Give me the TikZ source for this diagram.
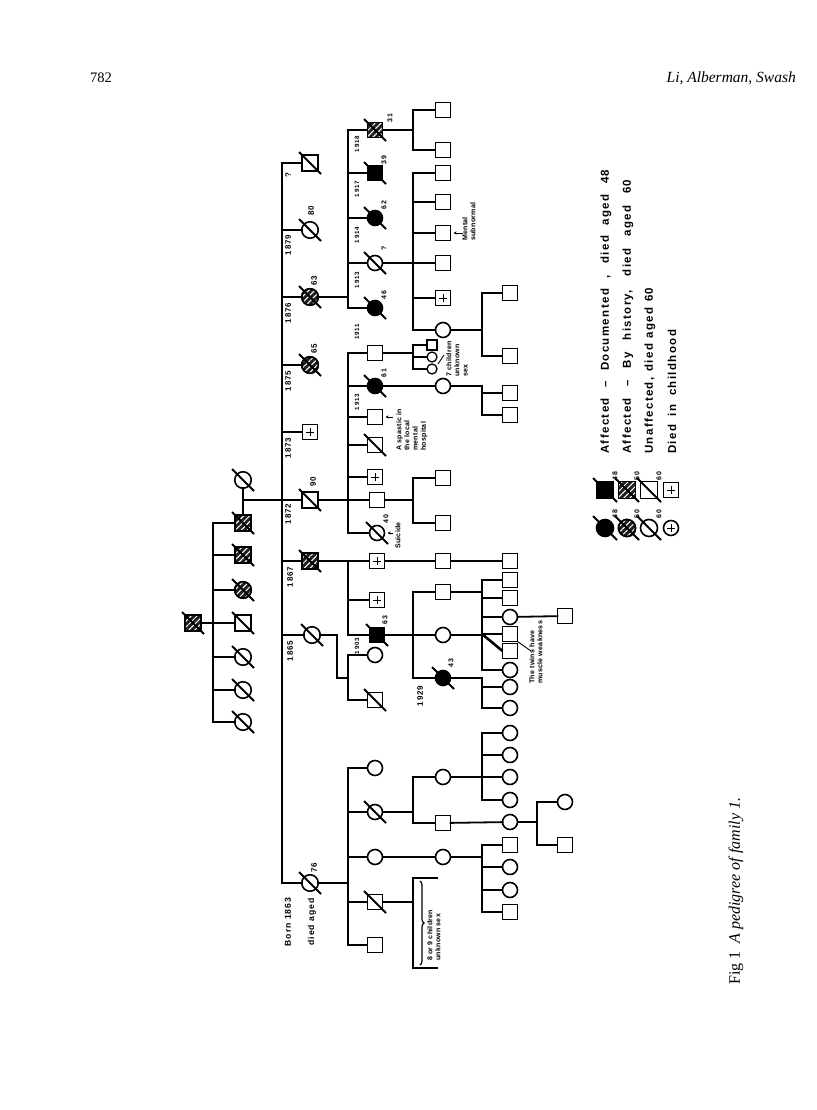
\documentclass[tikz,border=0pt]{standalone}
\usepackage{fontspec}
\setmainfont{Liberation Serif}
\newfontfamily\labf{Liberation Sans}[LetterSpace=12]
\newfontfamily\annf{Liberation Sans}[LetterSpace=4]
\newfontfamily\legf{Liberation Sans}[LetterSpace=12]
\usetikzlibrary{patterns.meta,decorations.pathreplacing,arrows.meta,calc}
\newcommand\dd[2][11]{\draw[sl] ([xshift=-#1pt,yshift=#1pt]#2.center) -- ([xshift=#1pt,yshift=-#1pt]#2.center);}
\begin{document}
\begin{tikzpicture}[x=1pt,y=-1pt,
  ln/.style={line width=1.8pt, line cap=rect},
  sym/.style={draw, line width=1.6pt, inner sep=0pt, outer sep=0pt, fill=white},
  sq/.style={sym, rectangle, minimum size=15pt},
  ci/.style={sym, circle, minimum size=15pt},
  big/.style={minimum size=16.5pt},
  sm/.style={minimum size=10pt, line width=1.3pt},
  aff/.style={fill=black},
  hat/.style={fill=black!88, postaction={pattern={Lines[angle=45,distance=4.2pt,line width=1pt]}, pattern color=white}, postaction={draw}},
  plus/.style={path picture={\draw[line width=0.9pt] ([xshift=-4pt]path picture bounding box.center) -- ([xshift=4pt]path picture bounding box.center) ([yshift=-4pt]path picture bounding box.center) -- ([yshift=4pt]path picture bounding box.center);}},
  sl/.style={line width=1.8pt},
  lab/.style={rotate=90, inner sep=0pt, font=\labf\bfseries\fontsize{8}{8}\selectfont},
  labb/.style={rotate=90, inner sep=0pt, font=\labf\bfseries\fontsize{8.6}{8.6}\selectfont},
  labs/.style={rotate=90, inner sep=0pt, font=\labf\bfseries\fontsize{6.2}{6.2}\selectfont},
  laba/.style={rotate=90, inner sep=0pt, font=\labf\bfseries\fontsize{7}{7}\selectfont},
  ann/.style={rotate=90, inner sep=0pt, align=left, anchor=north west, font=\annf\bfseries\fontsize{7}{8.2}\selectfont},
  leg/.style={rotate=90, inner sep=0pt, anchor=west, font=\legf\bfseries\fontsize{11.5}{11.5}\selectfont},
  tip/.style={-{Stealth[length=3pt,width=3pt]}, line width=0.9pt},
]
\useasboundingbox (0,0) rectangle (816,1110);
% header and caption
\node[font=\fontsize{14.5}{14.5}\selectfont, inner sep=0pt] (pg) at (101,78) {782};
\node[font=\fontsize{15.5}{15.5}\selectfont\itshape, inner sep=0pt, anchor=east] (au) at (796,78) {Li, Alberman, Swash};
\node[rotate=90, inner sep=0pt, anchor=west, font=\fontsize{16}{16}\selectfont] (cap) at (736,985) {Fig 1\enspace\textit{A pedigree of family 1.}};

% ---------- Gen I / II
\node[sq,big,hat] (g1) at (193,623) {};
\node[ci,big] (g2a) at (243,480) {};
\node[sq,big,hat] (g2b) at (243,523) {};
\node[sq,big,hat] (g2c) at (243,555) {};
\node[ci,big,hat] (g2d) at (243,590) {};
\node[sq,big] (g2e) at (243,623) {};
\node[ci,big] (g2f) at (243,657) {};
\node[ci,big] (g2g) at (243,690) {};
\node[ci,big] (g2h) at (243,722) {};
% ---------- Gen III
\node[sq,big] (h1) at (310,163) {};
\node[ci,big] (h2) at (310,230) {};
\node[ci,big,hat] (h3) at (310,297) {};
\node[ci,big,hat] (h4) at (310,365) {};
\node[sq,plus] (h5) at (310,432) {};
\node[sq,big] (h6) at (310,500) {};
\node[sq,big,hat] (h7) at (310,561) {};
\node[ci,big] (h8) at (312,635) {};
\node[ci,big] (h9) at (310,883) {};
% ---------- Gen IV
\node[sq,hat] (i1) at (375,130) {};
\node[sq,aff] (i2) at (375,173) {};
\node[ci,aff] (i3) at (375,218) {};
\node[ci] (i4) at (375,263) {};
\node[ci,aff] (i5) at (375,308) {};
\node[sq] (i6) at (375,353) {};
\node[ci,aff] (i7) at (375,386) {};
\node[sq] (i8) at (375,417) {};
\node[sq] (i9) at (375,445) {};
\node[sq,plus] (i10) at (375,477) {};
\node[sq] (i11) at (377,500) {};
\node[ci] (i12) at (377,533) {};
\node[sq,plus] (i13) at (377,561) {};
\node[sq,plus] (i14) at (377,600) {};
\node[sq,aff] (i15) at (377,635) {};
\node[ci] (i16) at (375,655) {};
\node[sq] (i17) at (375,700) {};
\node[ci] (i18) at (375,768) {};
\node[ci] (i19) at (375,812) {};
\node[ci] (i20) at (375,857) {};
\node[sq] (i21) at (375,902) {};
\node[sq] (i22) at (375,945) {};
% ---------- Gen V
\node[sq] (k1) at (443,110) {};
\node[sq] (k2) at (443,150) {};
\node[sq] (j1) at (443,173) {};
\node[sq] (j2) at (443,202) {};
\node[sq] (j3) at (443,233) {};
\node[sq] (j4) at (443,263) {};
\node[sq,plus] (j5) at (443,298) {};
\node[ci] (j6) at (443,330) {};
\node[sq,sm] (m1) at (432,345) {};
\node[ci,sm] (m2) at (432,357) {};
\node[ci,sm] (m3) at (432,369) {};
\node[ci] (j12) at (443,386) {};
\node[sq] (j13) at (443,478) {};
\node[sq] (j14) at (443,523) {};
\node[sq] (j0) at (443,561) {};
\node[sq] (j7) at (443,592) {};
\node[ci] (j8) at (443,635) {};
\node[ci,aff] (j9) at (443,678) {};
\node[ci] (j10) at (443,777) {};
\node[sq] (j11) at (443,823) {};
\node[ci] (j15) at (443,857) {};
% ---------- Gen VI / VII
\node[sq] (n1) at (510,293) {};
\node[sq] (n2) at (510,356) {};
\node[sq] (n3) at (510,393) {};
\node[sq] (n4) at (510,415) {};
\node[sq] (n0) at (510,561) {};
\node[sq] (n5) at (510,580) {};
\node[sq] (n6) at (510,598) {};
\node[ci] (n7) at (510,617) {};
\node[sq] (n8) at (510,634) {};
\node[sq] (n9) at (510,651) {};
\node[ci] (n10) at (510,670) {};
\node[ci] (n11) at (510,687) {};
\node[ci] (n12) at (510,708) {};
\node[ci] (n13) at (510,733) {};
\node[ci] (n14) at (510,755) {};
\node[ci] (n15) at (510,777) {};
\node[ci] (n16) at (510,800) {};
\node[ci] (n17) at (510,822) {};
\node[sq] (n18) at (510,845) {};
\node[ci] (n19) at (510,867) {};
\node[ci] (n20) at (510,890) {};
\node[sq] (n21) at (510,912) {};
\node[sq] (o1) at (565,616) {};
\node[ci] (o2) at (565,802) {};
\node[sq] (o3) at (565,845) {};

% ---------- connectors
\coordinate (A1) at (213,523); \coordinate (A2) at (213,722);
\draw[ln] (A1) -- (A2);
\draw[ln] (g1) -- (g1 -| A1);
\foreach \c in {g2b,g2c,g2d,g2e,g2f,g2g,g2h} \draw[ln] (\c) -- (\c -| A1);
\draw[ln] (g2a) -- (g2b);
\coordinate (M1) at (243,500);
\coordinate (B1) at (282,163); \coordinate (B2) at (282,883);
\draw[ln] (B1) -- (B2);
\draw[ln] (M1) -- (M1 -| B1);
\foreach \c in {h1,h2,h3,h4,h5,h6,h7,h8,h9} \draw[ln] (\c) -- (\c -| B1);
% gen IV sibships
\coordinate (C1) at (348,130); \coordinate (C2) at (348,308);
\draw[ln] (C1) -- (C2); \draw[ln] (h3) -- (h3 -| C1);
\foreach \c in {i1,i2,i3,i4,i5} \draw[ln] (\c) -- (\c -| C1);
\coordinate (D1) at (348,353); \coordinate (D2) at (348,533);
\draw[ln] (D1) -- (D2); \draw[ln] (h6) -- (h6 -| D1);
\foreach \c in {i6,i7,i8,i9,i10,i11,i12} \draw[ln] (\c) -- (\c -| D1);
\coordinate (E1) at (348,561); \coordinate (E2) at (348,635);
\draw[ln] (E1) -- (E2); \draw[ln] (h7) -- (h7 -| E1);
\foreach \c in {i13,i14,i15} \draw[ln] (\c) -- (\c -| E1);
\coordinate (F1) at (348,655); \coordinate (F2) at (348,700);
\coordinate (J1) at (337,635); \coordinate (J2) at (337,678);
\draw[ln] (F1) -- (F2); \draw[ln] (h8) -- (J1) -- (J2) -- (J2 -| F1);
\foreach \c in {i16,i17} \draw[ln] (\c) -- (\c -| F1);
\coordinate (G1) at (348,768); \coordinate (G2) at (348,945);
\draw[ln] (G1) -- (G2); \draw[ln] (h9) -- (h9 -| G1);
\foreach \c in {i18,i19,i20,i21,i22} \draw[ln] (\c) -- (\c -| G1);
% gen V sibships
\coordinate (P1) at (413,110); \coordinate (P2) at (413,150);
\draw[ln] (P1) -- (P2); \draw[ln] (i1) -- (i1 -| P1);
\foreach \c in {k1,k2} \draw[ln] (\c) -- (\c -| P1);
\coordinate (P3) at (413,173); \coordinate (P4) at (413,330);
\draw[ln] (P3) -- (P4); \draw[ln] (i4) -- (i4 -| P3);
\foreach \c in {j1,j2,j3,j4,j5,j6} \draw[ln] (\c) -- (\c -| P3);
\coordinate (P5) at (413,345); \coordinate (P6) at (413,369);
\draw[ln] (P5) -- (P6); \draw[ln] (i6) -- (i6 -| P5);
\foreach \c in {m1,m2,m3} \draw[ln] (\c) -- (\c -| P5);
\draw[ln] (i7) -- (j12);
\coordinate (P7) at (413,478); \coordinate (P8) at (413,523);
\draw[ln] (P7) -- (P8); \draw[ln] (i11) -- (i11 -| P7);
\foreach \c in {j13,j14} \draw[ln] (\c) -- (\c -| P7);
\draw[ln] (i13) -- (j0); \draw[ln] (j0) -- (n0);
\coordinate (P9) at (413,592); \coordinate (P10) at (413,678);
\draw[ln] (P9) -- (P10); \draw[ln] (i15) -- (i15 -| P9);
\foreach \c in {j7,j8,j9} \draw[ln] (\c) -- (\c -| P9);
\coordinate (P11) at (413,777); \coordinate (P12) at (413,823);
\draw[ln] (P11) -- (P12); \draw[ln] (i19) -- (i19 -| P11);
\foreach \c in {j10,j11} \draw[ln] (\c) -- (\c -| P11);
\draw[ln] (i20) -- (j15);
\coordinate (Q1) at (413,878); \coordinate (Q2) at (413,968);
\draw[ln] (i21) -- (i21 -| Q1);
\draw[ln] ([xshift=24pt]Q1) -- (Q1) -- (Q2) -- ([xshift=24pt]Q2);
\coordinate (Q3) at (420,881); \coordinate (Q4) at (420,965);
\draw[line width=1.2pt, decorate, decoration={brace, amplitude=4pt}] (Q3) -- (Q4);
% gen VI sibships
\coordinate (R1) at (482,293); \coordinate (R2) at (482,356);
\draw[ln] (R1) -- (R2); \draw[ln] (j6) -- (j6 -| R1);
\foreach \c in {n1,n2} \draw[ln] (\c) -- (\c -| R1);
\coordinate (R3) at (482,386); \coordinate (R4) at (482,415);
\draw[ln] (R3) -- (R4); \draw[ln] (j12) -- (j12 -| R3);
\foreach \c in {n3,n4} \draw[ln] (\c) -- (\c -| R3);
\coordinate (R5) at (482,580); \coordinate (R6) at (482,670);
\draw[ln] (R5) -- (R6); \draw[ln] (j7) -- (j7 -| R5); \draw[ln] (j8) -- (j8 -| R5);
\foreach \c in {n5,n6,n7,n8,n10} \draw[ln] (\c) -- (\c -| R5);
\draw[line width=2.6pt] (n8 -| R5) -- (n9.west);
\coordinate (R7) at (482,678); \coordinate (R8) at (482,708);
\draw[ln] (R7) -- (R8); \draw[ln] (j9) -- (j9 -| R7);
\foreach \c in {n11,n12} \draw[ln] (\c) -- (\c -| R7);
\coordinate (R9) at (482,733); \coordinate (R10) at (482,800);
\draw[ln] (R9) -- (R10); \draw[ln] (j10) -- (j10 -| R9);
\foreach \c in {n13,n14,n15,n16} \draw[ln] (\c) -- (\c -| R9);
\draw[ln] (j11) -- (n17);
\coordinate (R11) at (482,845); \coordinate (R12) at (482,912);
\draw[ln] (R11) -- (R12); \draw[ln] (j15) -- (j15 -| R11);
\foreach \c in {n18,n19,n20,n21} \draw[ln] (\c) -- (\c -| R11);
\draw[ln] (n7) -- (o1);
\coordinate (V1) at (537,802); \coordinate (V2) at (537,845);
\draw[ln] (V1) -- (V2); \draw[ln] (n17) -- (n17 -| V1);
\foreach \c in {o2,o3} \draw[ln] (\c) -- (\c -| V1);

% ---------- slashes (deceased)
\foreach \c in {g1,g2a,g2b,g2c,g2d,g2e,g2f,g2g,g2h,h1,h2,h3,h4,h6,h7,h8,h9,i1,i2,i3,i4,i5,i7,i9,i12,i15,i17,i19,i21,j9} {\dd{\c}}

% ---------- labels
\node[lab] (y1) at (288,175) {?};
\node[lab] (y2) at (288,245) {1879};
\node[lab] (y3) at (288,313) {1876};
\node[lab] (y4) at (288,381) {1875};
\node[lab] (y5) at (288,448) {1873};
\node[lab] (y6) at (288,514) {1872};
\node[lab] (y7) at (290,577) {1867};
\node[lab] (y8) at (290,651) {1865};
\node[lab] (a2) at (311,211) {80};
\node[lab] (a3) at (314,281) {63};
\node[lab] (a4) at (314,349) {65};
\node[lab] (a6) at (313,482) {90};
\node[lab] (a9) at (314,868) {76};
\node[labb] (b1) at (288,922) {Born 1863};
\node[labb] (b2) at (312,922) {died aged};
\node[labs] (z1) at (357,144) {1918};
\node[labs] (z2) at (357,189) {1917};
\node[labs] (z3) at (357,235) {1914};
\node[labs] (z4) at (357,280) {1913};
\node[labs] (z5) at (357,332) {1911};
\node[labs] (z6) at (357,402) {1913};
\node[labs] (z7) at (357,646) {1903};
\node[lab] (z8) at (420,696) {1929};
\node[laba] (c1) at (390,118) {31};
\node[laba] (c2) at (384,160) {39};
\node[laba] (c3) at (384,205) {62};
\node[laba] (c4) at (384,248) {?};
\node[laba] (c5) at (384,295) {46};
\node[laba] (c7) at (384,373) {61};
\node[laba] (c12) at (386,519) {40};
\node[laba] (c15) at (385,620) {63};
\node[laba] (c9) at (451,663) {43};
% annotations
\node[ann] (tMS) at (462,241) {Mental\\subnormal};
\coordinate (w1) at (463,233); \draw[tip] (w1) -- ([xshift=3pt]j3.east);
\node[ann] (t7c) at (446,377) {7 children\\unknown\\sex};
\coordinate (sc1) at (438,364); \coordinate (sc2) at (444,355); \draw[line width=0.9pt] (sc1) -- (sc2);
\node[ann] (tSp) at (396,451) {A spastic in\\the local\\mental\\hospital};
\coordinate (w2) at (393,417); \draw[tip] (w2) -- ([xshift=3pt]i8.east);
\node[ann] (tSu) at (395,549) {Suicide};
\coordinate (w3) at (393,533); \draw[tip] (w3) -- ([xshift=3pt]i12.east);
\node[ann] (tTw) at (529,684) {The twins have\\muscle weakness};
\coordinate (tw) at (531,651); \draw[line width=0.9pt] (n8.south east) -- (tw);
\node[ann] (t89) at (427,961) {8 or 9 children\\unknown sex};

% ---------- legend
\node[sq,aff,minimum size=17pt] (L1s) at (605,490) {};
\node[ci,aff,minimum size=17pt] (L1c) at (605,528) {};
\node[sq,hat,minimum size=17pt] (L2s) at (627,490) {};
\node[ci,hat,minimum size=17pt] (L2c) at (627,528) {};
\node[sq,minimum size=17pt] (L3s) at (649,490) {};
\node[ci,minimum size=17pt] (L3c) at (649,528) {};
\node[sq,plus,minimum size=15pt] (L4s) at (671,490) {};
\node[ci,plus,minimum size=15pt] (L4c) at (671,528) {};
\foreach \c in {L1s,L1c,L2s,L2c,L3s,L3c} {\dd[12]{\c}}
\node[laba] (l1a) at (615,476) {48};
\node[laba] (l1b) at (615,514) {48};
\node[laba] (l2a) at (637,476) {50};
\node[laba] (l2b) at (637,514) {50};
\node[laba] (l3a) at (659,476) {60};
\node[laba] (l3b) at (659,514) {60};
\node[leg] (T1) at (606,454) {\makebox[284pt][s]{Affected – Documented , died aged 48}};
\node[leg] (T2) at (628,454) {\makebox[274pt][s]{Affected – By history, died aged 60}};
\node[leg] (T3) at (650,454) {\makebox[166pt][s]{Unaffected, died aged 60}};
\node[leg] (T4) at (672,454) {\makebox[124pt][s]{Died in childhood}};
\end{tikzpicture}
\end{document}
